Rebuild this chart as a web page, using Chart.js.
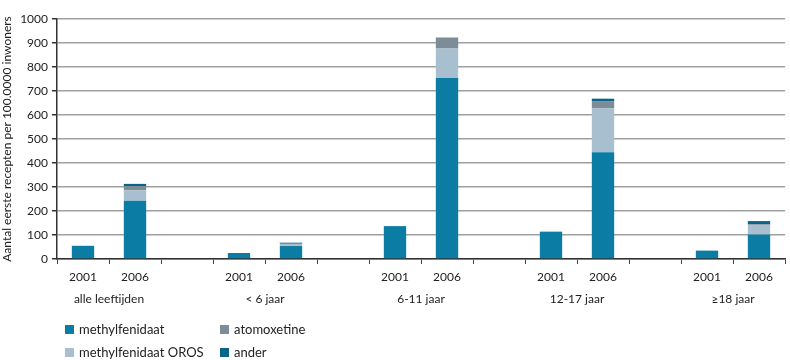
<!DOCTYPE html>
<html>
<head>
<meta charset="utf-8">
<script src="https://cdn.jsdelivr.net/npm/chart.js@4"></script>
<style>
  html, body { margin: 0; padding: 0; background: #fff; }
  #wrap { position: relative; width: 790px; height: 360px; }
  canvas { position: absolute; left: 0; top: 0; }
  .lg { position: absolute; font-family: Lato, "Open Sans", sans-serif; font-size: 13px; color: #222; white-space: nowrap; line-height: 16px; }
  .lg i { display: inline-block; width: 9px; height: 9px; margin-right: 5px; vertical-align: 0px; }
</style>
</head>
<body>
<div id="wrap">
  <canvas id="c" width="790" height="360"></canvas>
  <div id="legend"></div>
</div>
<script>
// ---- data ----
const categories = ['2001','2006','','2001','2006','','2001','2006','','2001','2006','','2001','2006'];
const groupLabels = ['alle leeftijden','< 6 jaar','6-11 jaar','12-17 jaar','\u226518 jaar'];
const seriesNames = ['methylfenidaat','methylfenidaat OROS','atomoxetine','ander'];
const methylfenidaat = [55, 243, null, 25, 54, null, 137, 754, null, 114, 445, null, 35, 102];
const methylfenidaatOROS = [0, 43, null, 0, 6, null, 0, 123, null, 0, 183, null, 0, 40];
const atomoxetine = [0, 18, null, 0, 4, null, 0, 46, null, 0, 28, null, 0, 3];
const ander = [0, 9, null, 0, 4, null, 0, 0, null, 0, 12, null, 0, 13];
const yTicks = [0,100,200,300,400,500,600,700,800,900,1000];
const yTitle = 'Aantal eerste recepten per 100.0000 inwoners';

const colors = ['#0b7ca4', '#a8bfcf', '#7c8d98', '#0a6487'];
const seriesData = [methylfenidaat, methylfenidaatOROS, atomoxetine, ander];

// second axis on a half-slot grid (no offset): group k is centred between its two
// year columns, i.e. at half-slot index 6k+2
const halfSlots = new Array(categories.length * 2 + 1).fill('');
groupLabels.forEach((g, k) => { halfSlots[6 * k + 2] = g; });

const FONT = 'Lato, "Open Sans", sans-serif';
Chart.defaults.font.family = FONT;
Chart.defaults.color = '#222';

new Chart(document.getElementById('c'), {
  type: 'bar',
  data: {
    labels: categories,
    datasets: seriesData.map((d, i) => ({
      label: seriesNames[i],
      data: d,
      backgroundColor: colors[i],
      borderWidth: 0,
      categoryPercentage: 1,
      barPercentage: 0.43,
      xAxisID: 'x'
    }))
  },
  options: {
    responsive: false,
    animation: false,
    layout: { padding: { left: 0, right: 2, top: 19, bottom: 46 } },
    plugins: { legend: { display: false }, tooltip: { enabled: false } },
    scales: {
      x: {
        type: 'category',
        stacked: true,
        position: 'bottom',
        offset: true,
        grid: { display: true, drawOnChartArea: false, drawTicks: true, tickLength: 5, color: '#444', offset: true },
        border: { display: true, color: '#333', width: 1.5 },
        ticks: { font: { size: 12 }, color: '#222', padding: 6, maxRotation: 0, autoSkip: false },
        afterFit: s => { s.height = 28; }
      },
      x2: {
        type: 'category',
        labels: halfSlots,
        position: 'bottom',
        offset: false,
        grid: { display: false, drawTicks: false },
        border: { display: false },
        ticks: { font: { size: 12 }, color: '#222', padding: 5, maxRotation: 0, autoSkip: false },
        afterFit: s => { s.height = 27; }
      },
      y: {
        stacked: true,
        min: 0,
        max: 1000,
        afterBuildTicks: axis => { axis.ticks = yTicks.map(v => ({ value: v })); },
        grid: { color: '#a0a0a0', lineWidth: 1.5, tickLength: 5, tickColor: '#333', drawTicks: true },
        border: { display: true, color: '#333', width: 1.5 },
        ticks: { font: { size: 12 }, color: '#222', padding: 4, callback: v => String(v) },
        title: { display: true, text: yTitle, font: { size: 12 }, color: '#222', padding: { top: 0, bottom: 2 } },
        afterFit: s => { s.width = 57; }
      }
    }
  }
});

// HTML legend (2 columns)
const legendPos = [[65, 321], [65, 344], [220, 321], [220, 344]];
const lg = document.getElementById('legend');
seriesNames.forEach((n, i) => {
  const d = document.createElement('div');
  d.className = 'lg';
  d.style.left = legendPos[i][0] + 'px';
  d.style.top = legendPos[i][1] + 'px';
  d.innerHTML = '<i style="background:' + colors[i] + '"></i>';
  d.appendChild(document.createTextNode(n));
  lg.appendChild(d);
});
</script>
</body>
</html>
